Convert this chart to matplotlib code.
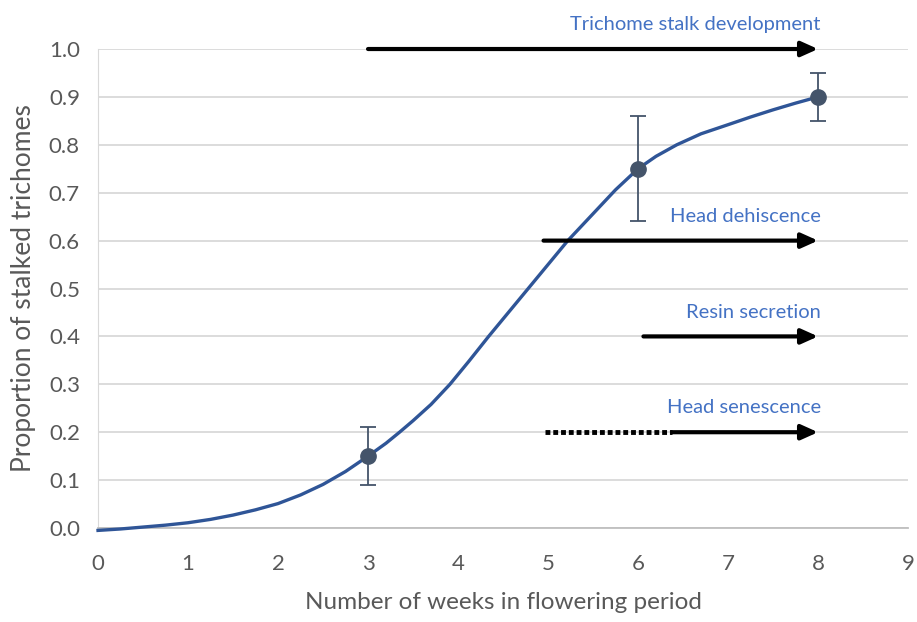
import matplotlib
matplotlib.use('Agg')
import matplotlib.pyplot as plt

plt.rcParams['font.family'] = ['Lato', 'DejaVu Sans']

# measured points with error bars
weeks = [3, 6, 8]
proportion = [0.15, 0.75, 0.90]
err_low = [0.06, 0.11, 0.05]
err_high = [0.06, 0.11, 0.05]

# smoothed curve, points
curve_x = [0, 0.25, 0.5, 0.75, 1, 1.25, 1.5, 1.75, 2, 2.25, 2.5, 2.75, 3,
           3.2, 3.35, 3.5, 3.7, 3.91, 4.12, 4.34, 4.56, 4.78, 5, 5.22, 5.5,
           5.75, 6, 6.2, 6.43, 6.7, 7, 7.25, 7.5, 7.75, 8]
curve_y = [-0.005, -0.002, 0.002, 0.006, 0.011, 0.018, 0.027, 0.038, 0.051,
           0.069, 0.091, 0.118, 0.15, 0.177, 0.2, 0.224, 0.258, 0.3, 0.348,
           0.4, 0.45, 0.5, 0.55, 0.6, 0.656, 0.706, 0.75, 0.776, 0.8, 0.823,
           0.842, 0.858, 0.873, 0.887, 0.9]

# stage arrows: label, y level, dotted start, solid start, end
stages = ['Trichome stalk development', 'Head dehiscence', 'Resin secretion', 'Head senescence']
stage_y = [1.0, 0.6, 0.4, 0.2]
stage_dot_start = [None, None, None, 4.97]
stage_start = [3.0, 4.95, 6.06, 6.38]
stage_end = [8.0, 8.0, 8.0, 8.0]

fig = plt.figure(figsize=(9.17, 6.22), dpi=100)
ax = fig.add_axes([0.1069, 0.1511, 0.8833, 0.7701])

ax.set_xlim(0, 9)
ax.set_ylim(0, 1.0)
ax.set_xticks(range(0, 10))
ax.set_yticks([i / 10 for i in range(11)])
ax.set_yticklabels([f'{i / 10:.1f}' for i in range(11)])
ax.grid(axis='y', color='#d9d9d9', linewidth=1.3)
ax.set_axisbelow(True)
for s in ['top', 'right']:
    ax.spines[s].set_visible(False)
ax.spines['left'].set_color('#d9d9d9')
ax.spines['bottom'].set_color('#bfbfbf')
ax.spines['bottom'].set_linewidth(1.3)
ax.tick_params(length=0, labelsize=16, colors='#595959')
ax.tick_params(axis='x', pad=19)
ax.tick_params(axis='y', pad=13)

ax.plot(curve_x, curve_y, color='#2f5597', linewidth=2.4, clip_on=False, zorder=3,
        solid_joinstyle='round')
ax.errorbar(weeks, proportion, yerr=[err_low, err_high], fmt='o', color='#44546a',
            markersize=11, ecolor='#44546a', elinewidth=1.3, capsize=6, capthick=1.3, zorder=4)

for lab, y, d0, x0, x1 in zip(stages, stage_y, stage_dot_start, stage_start, stage_end):
    if d0 is not None:
        ax.plot([d0, x0], [y, y], color='black', linewidth=3.5, linestyle=(0, (1, 0.6)), zorder=5)
    ax.annotate('', xy=(x1, y), xytext=(x0, y),
                arrowprops=dict(arrowstyle='-|>,head_length=1.0,head_width=0.45',
                                color='black', lw=3, shrinkA=0, shrinkB=0),
                annotation_clip=False, zorder=5)
    ax.text(x1 + 0.03, y + 0.033, lab, ha='right', va='bottom', color='#4472c4',
            fontsize=14.5, clip_on=False)

ax.set_xlabel('Number of weeks in flowering period', fontsize=17.5, color='#595959', labelpad=13)
ax.set_ylabel('Proportion of stalked trichomes', fontsize=19, color='#595959', labelpad=9)

plt.savefig('out.png', dpi=100)
